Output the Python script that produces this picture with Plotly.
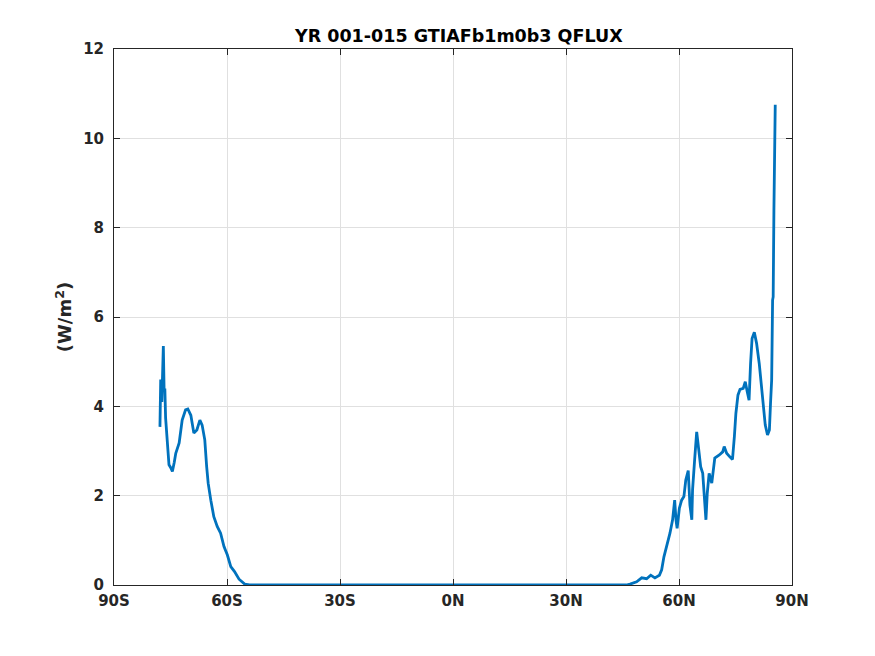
import plotly.graph_objects as go

# latitude (deg, negative = south) and zonal mean QFLUX (W/m^2)
lat = [-77.8, -77.6, -77.3, -77.1, -76.9, -76.7, -76.5, -76.3, -75.85, -75.4,
       -74.9, -74.5, -74.0, -73.6, -72.7, -71.9, -71.0, -70.4, -69.6, -68.8,
       -68.0, -67.2, -66.6, -65.9, -65.4, -65.0, -64.3, -63.5, -62.6, -61.7,
       -60.8, -59.9, -59.0, -58.0, -56.8, -55.3, -54.0,
       -30.0, 0.0, 30.0, 46.0,
       47.0, 48.75, 50.1, 51.4, 52.5, 53.6, 54.8, 55.4, 56.0, 56.7,
       57.6, 58.3, 58.85, 59.2, 59.5, 60.1, 60.7, 61.3, 61.8, 62.45,
       62.9, 63.4, 63.6, 64.15, 64.7, 65.2, 65.75, 66.3, 66.7, 67.15,
       67.5, 68.0, 68.7, 69.1, 69.5, 70.7, 71.6, 72.0, 72.65, 73.5,
       74.2, 74.7, 75.1, 75.65, 76.2, 77.05, 77.6, 78.1, 78.6, 79.0,
       79.4, 80.0, 80.6, 81.3, 81.9, 82.4, 82.9, 83.5, 84.0, 84.3,
       84.6, 84.85, 85.0, 85.2, 85.4, 85.55]
qflux = [3.54, 4.6, 4.1, 5.2, 5.35, 4.37, 4.4, 3.74, 3.1, 2.69,
         2.62, 2.54, 2.75, 2.95, 3.18, 3.69, 3.92, 3.94, 3.8, 3.4,
         3.47, 3.69, 3.58, 3.25, 2.65, 2.28, 1.9, 1.53, 1.31, 1.16,
         0.86, 0.67, 0.41, 0.3, 0.13, 0.02, 0.0,
         0.0, 0.0, 0.0, 0.0,
         0.02, 0.07, 0.16, 0.14, 0.22, 0.16, 0.22, 0.34, 0.63, 0.86,
         1.16, 1.46, 1.9, 1.46, 1.27, 1.72, 1.9, 1.98, 2.35, 2.56,
         1.79, 1.46, 2.13, 2.8, 3.43, 3.06, 2.65, 2.5, 1.9, 1.46,
         2.05, 2.5, 2.28, 2.57, 2.84, 2.91, 2.98, 3.1, 2.95, 2.87,
         2.81, 3.32, 3.84, 4.25, 4.38, 4.4, 4.55, 4.33, 4.14, 4.96,
         5.52, 5.66, 5.41, 4.96, 4.48, 3.99, 3.58, 3.36, 3.47, 4.07,
         4.59, 6.38, 6.45, 8.39, 10.34, 10.75]

xticks = [-90, -60, -30, 0, 30, 60, 90]
xlabels = ["90S", "60S", "30S", "0N", "30N", "60N", "90N"]
yticks = [0, 2, 4, 6, 8, 10, 12]

fig = go.Figure()
fig.add_trace(go.Scatter(x=lat, y=qflux, mode="lines",
                         line=dict(color="#0072BD", width=2.8)))

axis_common = dict(showline=True, linecolor="#262626", linewidth=1, mirror="ticks",
                   ticks="inside", ticklen=6, tickcolor="#262626",
                   showgrid=True, gridcolor="#e0e0e0", gridwidth=1,
                   zeroline=False,
                   tickfont=dict(family="DejaVu Sans", size=15, color="#262626",
                                 weight="bold"))

fig.update_xaxes(range=[-90, 90], tickvals=xticks, ticktext=xlabels,
                 ticklabelstandoff=2, **axis_common)
fig.update_yaxes(range=[0, 12], tickvals=yticks, ticklabelstandoff=6,
                 title=dict(text="(W/m<sup>2</sup>)", standoff=6,
                            font=dict(family="DejaVu Sans", size=18, color="#262626",
                                      weight="bold")),
                 **axis_common)

# page body adds 8px offset, so margins are trimmed by 8 on the left/top
fig.update_layout(
    width=867, height=648,
    margin=dict(l=106, r=83, t=41, b=71),
    paper_bgcolor="white", plot_bgcolor="white",
    showlegend=False,
    title=dict(text="YR 001-015 GTIAFb1m0b3 QFLUX", x=0.52, xanchor="center",
               y=0.957, yanchor="middle",
               font=dict(family="DejaVu Sans", size=17.5, color="black", weight="bold")),
)

fig.write_html("out.html")
